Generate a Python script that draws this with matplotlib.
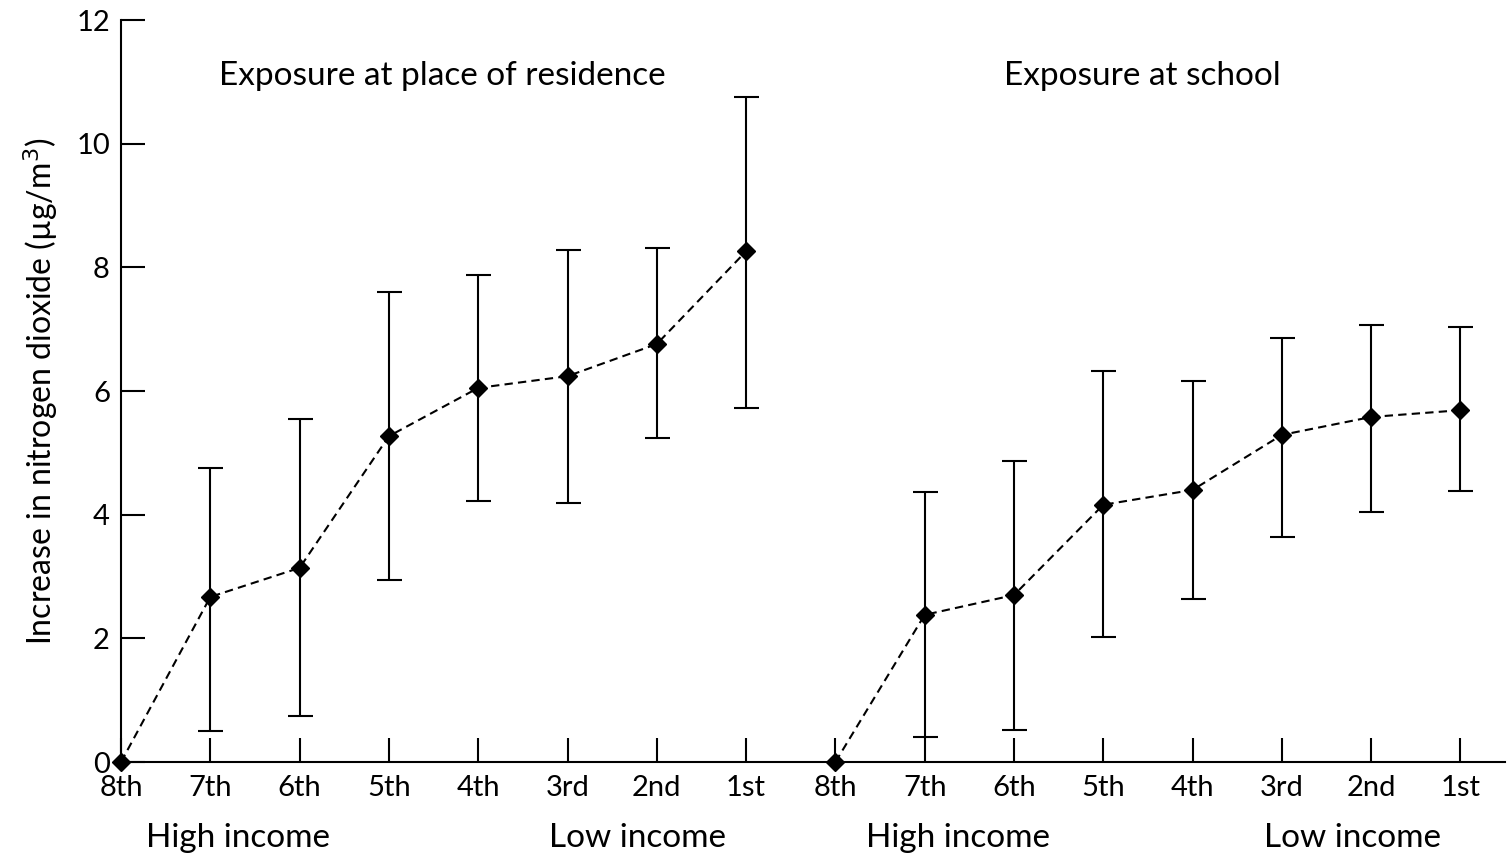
import matplotlib.pyplot as plt
import numpy as np

plt.rcParams['font.family'] = ['Lato', 'DejaVu Sans']

# income deciles (8th = highest income ... 1st = lowest)
ranks = ["8th", "7th", "6th", "5th", "4th", "3rd", "2nd", "1st"]

# exposure at place of residence
res_mean = [0.0, 2.67, 3.14, 5.27, 6.05, 6.24, 6.76, 8.26]
res_low = [0.0, 0.50, 0.74, 2.94, 4.22, 4.19, 5.24, 5.73]
res_high = [0.0, 4.75, 5.55, 7.60, 7.88, 8.28, 8.31, 10.75]

# exposure at school
sch_mean = [0.0, 2.38, 2.70, 4.16, 4.40, 5.29, 5.58, 5.69]
sch_low = [0.0, 0.40, 0.52, 2.02, 2.64, 3.64, 4.04, 4.38]
sch_high = [0.0, 4.37, 4.87, 6.32, 6.16, 6.86, 7.07, 7.04]

fig = plt.figure(figsize=(15.11, 8.56), dpi=100)
ax = fig.add_axes([0.0801, 0.1098, 0.916, 0.8668])


def draw_group(ax, offset, mean, low, high):
    x = np.arange(len(mean)) + offset
    mean = np.array(mean)
    err = np.array([mean - np.array(low), np.array(high) - mean])
    # no error bar on reference group
    ax.errorbar(x[1:], mean[1:], yerr=err[:, 1:], fmt="none", ecolor="black",
                elinewidth=1.5, capsize=9, capthick=1.5, zorder=2)
    ax.plot(x, mean, color="black", linestyle=(0, (4, 2.5)), linewidth=1.5,
            marker="D", markersize=9, clip_on=False, zorder=3)


draw_group(ax, 0, res_mean, res_low, res_high)
draw_group(ax, 8, sch_mean, sch_low, sch_high)

ax.set_xlim(0, 15.5)
ax.set_ylim(0, 12)
ax.set_xticks(np.arange(16))
ax.set_xticklabels(ranks + ranks)
ax.set_yticks([0, 2, 4, 6, 8, 10, 12])

for s in ["top", "right"]:
    ax.spines[s].set_visible(False)
for s in ["left", "bottom"]:
    ax.spines[s].set_linewidth(1.5)

ax.tick_params(direction="in", length=17, width=1.5, labelsize=21)
ax.tick_params(axis="x", pad=9)
ax.tick_params(axis="y", pad=8)

ax.set_ylabel("Increase in nitrogen dioxide (µg/m$^3$)", fontsize=23, labelpad=12)

ax.text(3.6, 11.1, "Exposure at place of residence", fontsize=24,
        ha="center", va="center")
ax.text(11.44, 11.1, "Exposure at school", fontsize=24, ha="center", va="center")

for xc, lab in [(1.31, "High income"), (5.78, "Low income"),
                (9.37, "High income"), (13.79, "Low income")]:
    ax.text(xc, -1.23, lab, fontsize=24, ha="center", va="center")

fig.savefig("out.png", dpi=100)
